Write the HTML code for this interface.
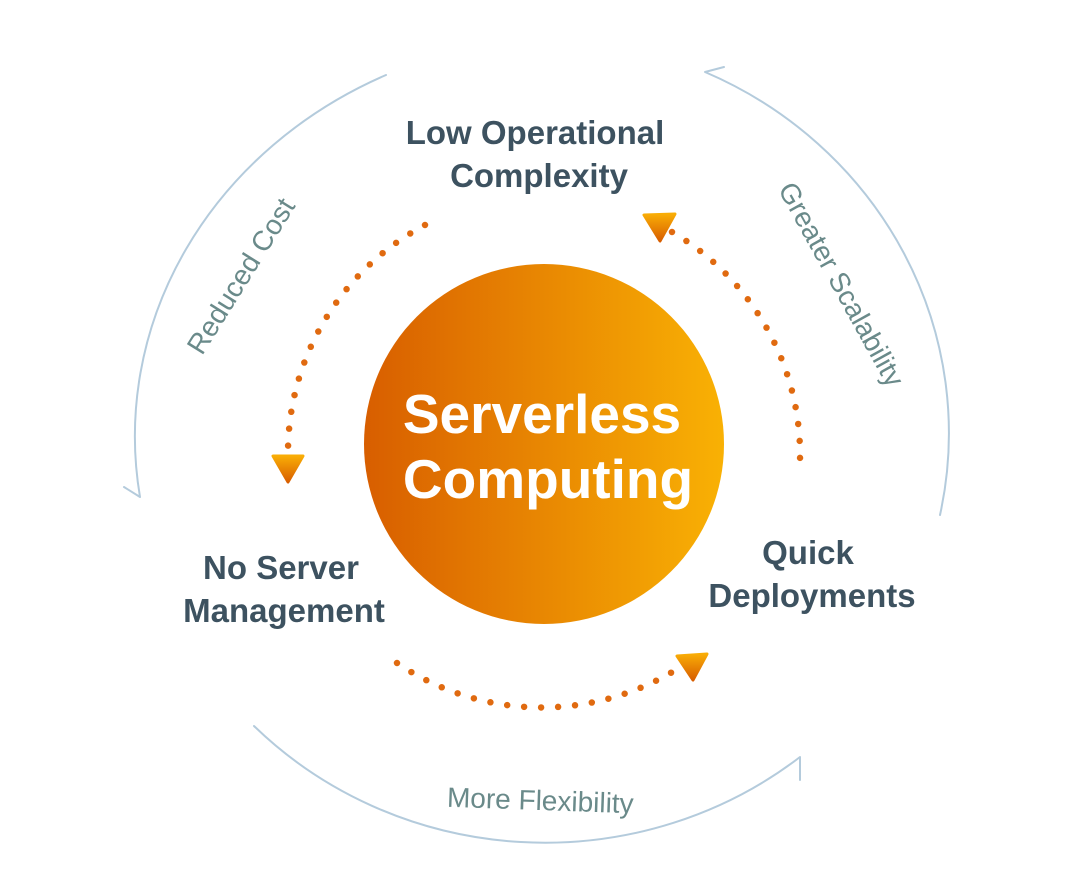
<!DOCTYPE html>
<html><head><meta charset="utf-8"><style>
html,body{margin:0;padding:0;background:#fff;}
svg{display:block;}
text{font-family:"Liberation Sans",sans-serif;}
</style></head><body>
<svg width="1084" height="884" viewBox="0 0 1084 884" xmlns="http://www.w3.org/2000/svg">
<defs>
<linearGradient id="g" x1="0" y1="0" x2="1" y2="0">
<stop offset="0" stop-color="#d85e00"/><stop offset="1" stop-color="#f9b104"/>
</linearGradient>
<linearGradient id="ta" x1="0" y1="0" x2="0" y2="1">
<stop offset="0" stop-color="#f9ad06"/><stop offset="1" stop-color="#d85e00"/>
</linearGradient>
</defs>
<g fill="none" stroke="#b4cbdc" stroke-width="2" stroke-linecap="round" stroke-linejoin="round">
<path d="M386 75 A440 400 0 0 0 140 497 L124 487"/>
<path d="M724 67 L705 72 A410 395 0 0 1 940 515"/>
<path d="M800 780 L800 757 A410 395 0 0 1 254 726"/>
</g>
<g fill="none" stroke="#e06a10" stroke-width="6.5" stroke-linecap="round" stroke-dasharray="0 17">
<path d="M425 225 A258 258 0 0 0 288 450"/>
<path d="M672 232 A258 258 0 0 1 800 460"/>
<path d="M397 663 A258 258 0 0 0 682 666"/>
</g>
<g fill="url(#ta)" stroke="url(#ta)" stroke-width="3" stroke-linejoin="round">
<polygon points="273,456 303,456 288,482"/>
<polygon points="644,215 675,214 660,241"/>
<polygon points="677,656 707,654 693,680"/>
</g>
<circle cx="544" cy="444" r="180" fill="url(#g)"/>
<g fill="#fff" font-weight="bold" font-size="55" text-anchor="middle">
<text x="542" y="433">Serverless</text>
<text x="548" y="498">Computing</text>
</g>
<g fill="#3d5260" font-weight="bold" font-size="33" text-anchor="middle">
<text x="535" y="144">Low Operational</text>
<text x="539" y="187">Complexity</text>
<text x="281" y="579">No Server</text>
<text x="284" y="622">Management</text>
<text x="808" y="564">Quick</text>
<text x="812" y="607">Deployments</text>
</g>
<g fill="#6a8a8a" font-size="28" text-anchor="middle">
<text transform="translate(249,281) rotate(-58)">Reduced Cost</text>
<text transform="translate(833,289) rotate(61)">Greater Scalability</text>
<text transform="translate(540,810) rotate(2)">More Flexibility</text>
</g>
</svg>
</body></html>
